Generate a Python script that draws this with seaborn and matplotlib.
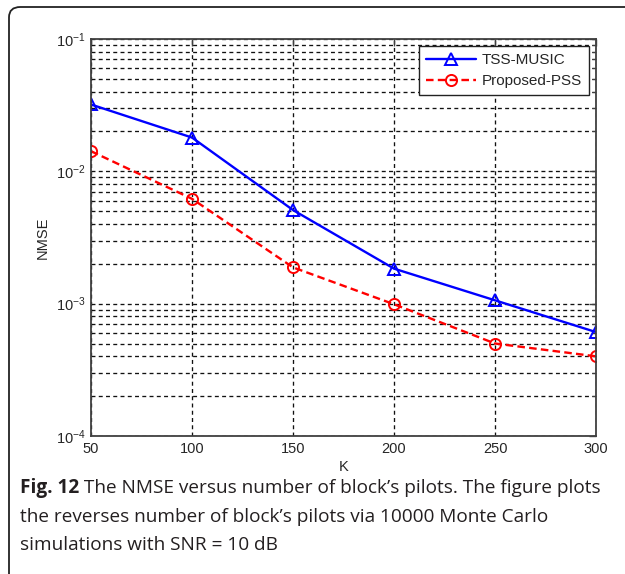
import matplotlib
matplotlib.use("Agg")
import matplotlib.pyplot as plt
import seaborn as sns
import numpy as np
import pandas as pd
from matplotlib.patches import FancyBboxPatch
from matplotlib.ticker import LogLocator, FixedLocator

# ---- data ----
K = [50, 100, 150, 200, 250, 300]
tss_music = [0.032, 0.018, 0.0051, 0.00184, 0.00106, 0.00061]
proposed_pss = [0.0142, 0.0062, 0.00188, 0.00099, 0.00050, 0.00040]
series_names = ["TSS-MUSIC", "Proposed-PSS"]
x_ticks = [50, 100, 150, 200, 250, 300]
y_ticks = [1e-4, 1e-3, 1e-2, 1e-1]
x_label = "K"
y_label = "NMSE"
caption_bold = "Fig. 12"
caption_rest = [" The NMSE versus number of block\u2019s pilots. The figure plots",
                "the reverses number of block\u2019s pilots via 10000 Monte Carlo",
                "simulations with SNR = 10 dB"]

sns.set_style("white")
plt.rcParams["font.family"] = ["Liberation Sans", "DejaVu Sans"]
plt.rcParams["mathtext.default"] = "regular"

W, H = 625, 574
fig = plt.figure(figsize=(W / 100, H / 100), dpi=100)

# rounded border box
box = FancyBboxPatch((9 / W, -40 / H), 700 / W, (574 - 7 + 40) / H,
                     boxstyle="round,pad=0,rounding_size=0.018",
                     transform=fig.transFigure, fill=False,
                     edgecolor="#222222", linewidth=1.3, clip_on=False)
fig.patches.append(box)

ax = fig.add_axes([91 / W, 1 - 436 / H, (596 - 91) / W, (436 - 39) / H])

df = pd.DataFrame({"K": K * 2,
                   "NMSE": tss_music + proposed_pss,
                   "series": [series_names[0]] * len(K) + [series_names[1]] * len(K)})

sns.lineplot(data=df[df.series == series_names[0]], x="K", y="NMSE", ax=ax,
             color="#0000ff", linewidth=1.7, marker="^", markersize=9,
             markerfacecolor="none", markeredgecolor="#0000ff", markeredgewidth=1.4,
             label=series_names[0])
sns.lineplot(data=df[df.series == series_names[1]], x="K", y="NMSE", ax=ax,
             color="#ff0000", linewidth=1.7, linestyle=(0, (3.2, 1.8)), marker="o",
             markersize=8, markerfacecolor="none", markeredgecolor="#ff0000",
             markeredgewidth=1.4, label=series_names[1])

ax.set_yscale("log")
ax.set_xlim(50, 300)
ax.set_ylim(1e-4, 1e-1)
ax.set_xticks(x_ticks)
ax.set_xticklabels([str(v) for v in x_ticks])
ax.yaxis.set_major_locator(FixedLocator(y_ticks))
ax.yaxis.set_minor_locator(LogLocator(base=10, subs=np.arange(2, 10), numticks=20))
ax.set_yticklabels([r"$10^{%d}$" % int(np.log10(v)) for v in y_ticks])
ax.yaxis.set_minor_formatter(matplotlib.ticker.NullFormatter())

gridkw = dict(color="#111111", linestyle=(0, (3, 2.5)), linewidth=0.95)
ax.grid(True, which="major", axis="both", **gridkw)
ax.grid(True, which="minor", axis="y", **gridkw)

for s in ax.spines.values():
    s.set_color("#404040")
    s.set_linewidth(1.3)
    s.set_visible(True)

ax.tick_params(which="both", direction="in", top=True, right=True,
               color="#404040", labelcolor="#262626", labelsize=10.5)
ax.tick_params(which="major", length=5, width=1.0, pad=4)
ax.tick_params(which="minor", length=3, width=0.8)

ax.set_xlabel(x_label, fontsize=10.5, color="#262626", labelpad=3)
ax.set_ylabel(y_label, fontsize=10.5, color="#262626", labelpad=4)

leg = ax.legend(loc="upper right", bbox_to_anchor=(0.986, 0.982), borderaxespad=0,
                fancybox=False, framealpha=1, edgecolor="#222222", fontsize=11,
                handlelength=3.3, handletextpad=0.35, borderpad=0.45,
                labelspacing=0.45)
leg.get_frame().set_linewidth(1.0)

# caption
cap_font = ["Open Sans", "DejaVu Sans"]
cap_size = 13.7
y0 = 1 - 488 / H
dy = 28.5 / H
t = fig.text(20 / W, y0, caption_bold, fontsize=cap_size, fontweight="bold",
             family=cap_font, color="#231f20", va="center")
fig.canvas.draw()
bb = t.get_window_extent()
fig.text(bb.x1 / W, y0, caption_rest[0], fontsize=cap_size, family=cap_font,
         color="#231f20", va="center")
fig.text(20 / W, y0 - dy, caption_rest[1], fontsize=cap_size, family=cap_font,
         color="#231f20", va="center")
fig.text(20 / W, y0 - 2 * dy, caption_rest[2], fontsize=cap_size, family=cap_font,
         color="#231f20", va="center")

fig.savefig("out.png", dpi=100)
